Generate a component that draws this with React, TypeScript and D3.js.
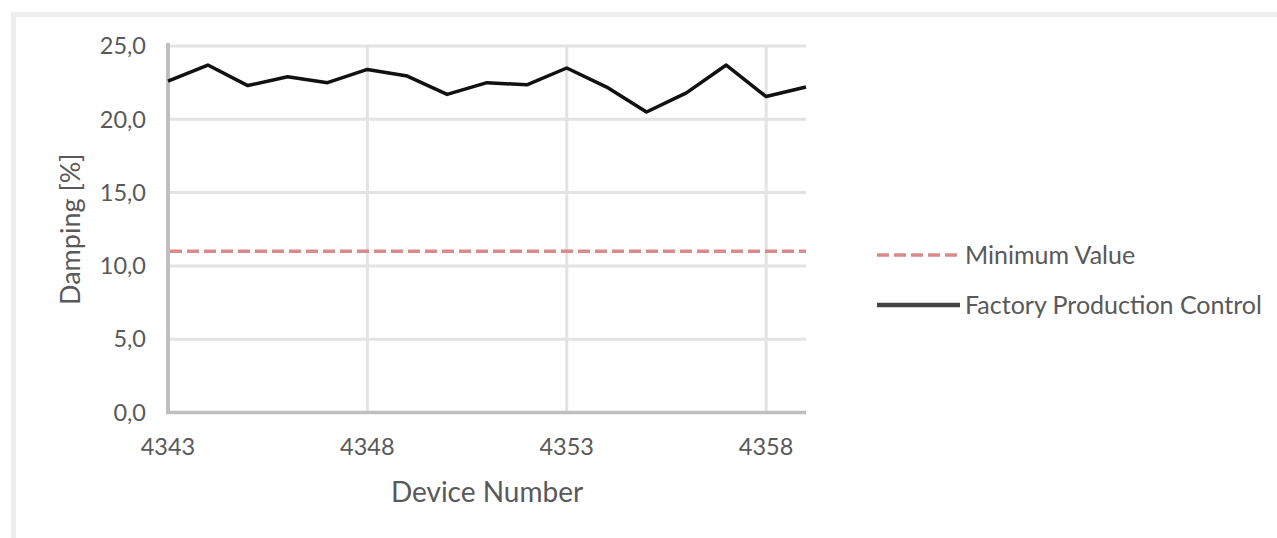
import React from "react";
import * as d3 from "d3";

const deviceNumbers = [4343, 4344, 4345, 4346, 4347, 4348, 4349, 4350, 4351, 4352, 4353, 4354, 4355, 4356, 4357, 4358, 4359];
const dampingValues = [22.6, 23.7, 22.3, 22.9, 22.5, 23.4, 22.95, 21.7, 22.5, 22.35, 23.5, 22.2, 20.5, 21.8, 23.7, 21.55, 22.2];
const minimumValue = 11.0;
const yTicks = [0, 5, 10, 15, 20, 25];
const xTicks = [4343, 4348, 4353, 4358];
const seriesNames = ["Minimum Value", "Factory Production Control"];

const W = 1277;
const H = 538;
const FONT = "Lato, 'Open Sans', sans-serif";
const TEXT = "#595959";

export default function App() {
  const x = d3.scaleLinear().domain([4343, 4359]).range([168, 806]);
  const y = d3.scaleLinear().domain([0, 25]).range([412.5, 46]);
  const line = d3
    .line<number>()
    .x((_, i) => x(deviceNumbers[i]))
    .y((d) => y(d));
  const fmt = (v: number) => v.toFixed(1).replace(".", ",");

  return (
    <svg width={W} height={H} style={{ position: "absolute", left: 0, top: 0, background: "#fff" }}>
      <rect x={13.5} y={14.5} width={1400} height={700} fill="none" stroke="#eeeeee" strokeWidth={5} />
      {/* horizontal gridlines */}
      {yTicks.filter((t) => t > 0).map((t) => (
        <line key={"h" + t} x1={x(4343)} x2={x(4359)} y1={y(t)} y2={y(t)} stroke="#e3e3e3" strokeWidth={3} />
      ))}
      {/* vertical gridlines */}
      {xTicks.filter((t) => t > 4343).map((t) => (
        <line key={"v" + t} x1={x(t)} x2={x(t)} y1={y(25)} y2={y(0)} stroke="#e3e3e3" strokeWidth={3} />
      ))}
      {/* axes */}
      <line x1={x(4343)} x2={x(4343)} y1={y(25) - 3} y2={y(0) + 1.5} stroke="#bfbfbf" strokeWidth={4} />
      <line x1={x(4343) - 2} x2={x(4359)} y1={y(0)} y2={y(0)} stroke="#bfbfbf" strokeWidth={3.5} />
      {/* minimum value */}
      <line
        x1={x(4343) + 2}
        x2={x(4359)}
        y1={y(minimumValue)}
        y2={y(minimumValue)}
        stroke="#d98a8a"
        strokeWidth={3.5}
        strokeDasharray="12 5"
      />
      {/* series */}
      <path d={line(dampingValues) || ""} fill="none" stroke="#111" strokeWidth={3.5} strokeLinejoin="round" />
      {/* y tick labels */}
      {yTicks.map((t) => (
        <text key={"yl" + t} x={146} y={y(t)} dy="0.35em" textAnchor="end" fontFamily={FONT} fontSize={23.5} fill={TEXT}>
          {fmt(t)}
        </text>
      ))}
      {/* x tick labels */}
      {xTicks.map((t) => (
        <text key={"xl" + t} x={x(t)} y={447} dy="0.35em" textAnchor="middle" fontFamily={FONT} fontSize={23.5} fill={TEXT}>
          {t}
        </text>
      ))}
      <text x={(x(4343) + x(4359)) / 2} y={492} dy="0.35em" textAnchor="middle" fontFamily={FONT} fontSize={28} fill={TEXT}>
        Device Number
      </text>
      <text
        transform={`translate(71, ${(y(0) + y(25)) / 2}) rotate(-90)`}
        dy="0.35em"
        textAnchor="middle"
        fontFamily={FONT}
        fontSize={27}
        fill={TEXT}
      >
        Damping [%]
      </text>
      {/* legend */}
      <line x1={877} x2={960} y1={255} y2={255} stroke="#d98a8a" strokeWidth={3.5} strokeDasharray="12 5" />
      <text x={965} y={255} dy="0.35em" fontFamily={FONT} fontSize={25} fill={TEXT}>
        {seriesNames[0]}
      </text>
      <line x1={877} x2={960} y1={305} y2={305} stroke="#444" strokeWidth={4.5} />
      <text x={965} y={305} dy="0.35em" fontFamily={FONT} fontSize={25} fill={TEXT}>
        {seriesNames[1]}
      </text>
    </svg>
  );
}
